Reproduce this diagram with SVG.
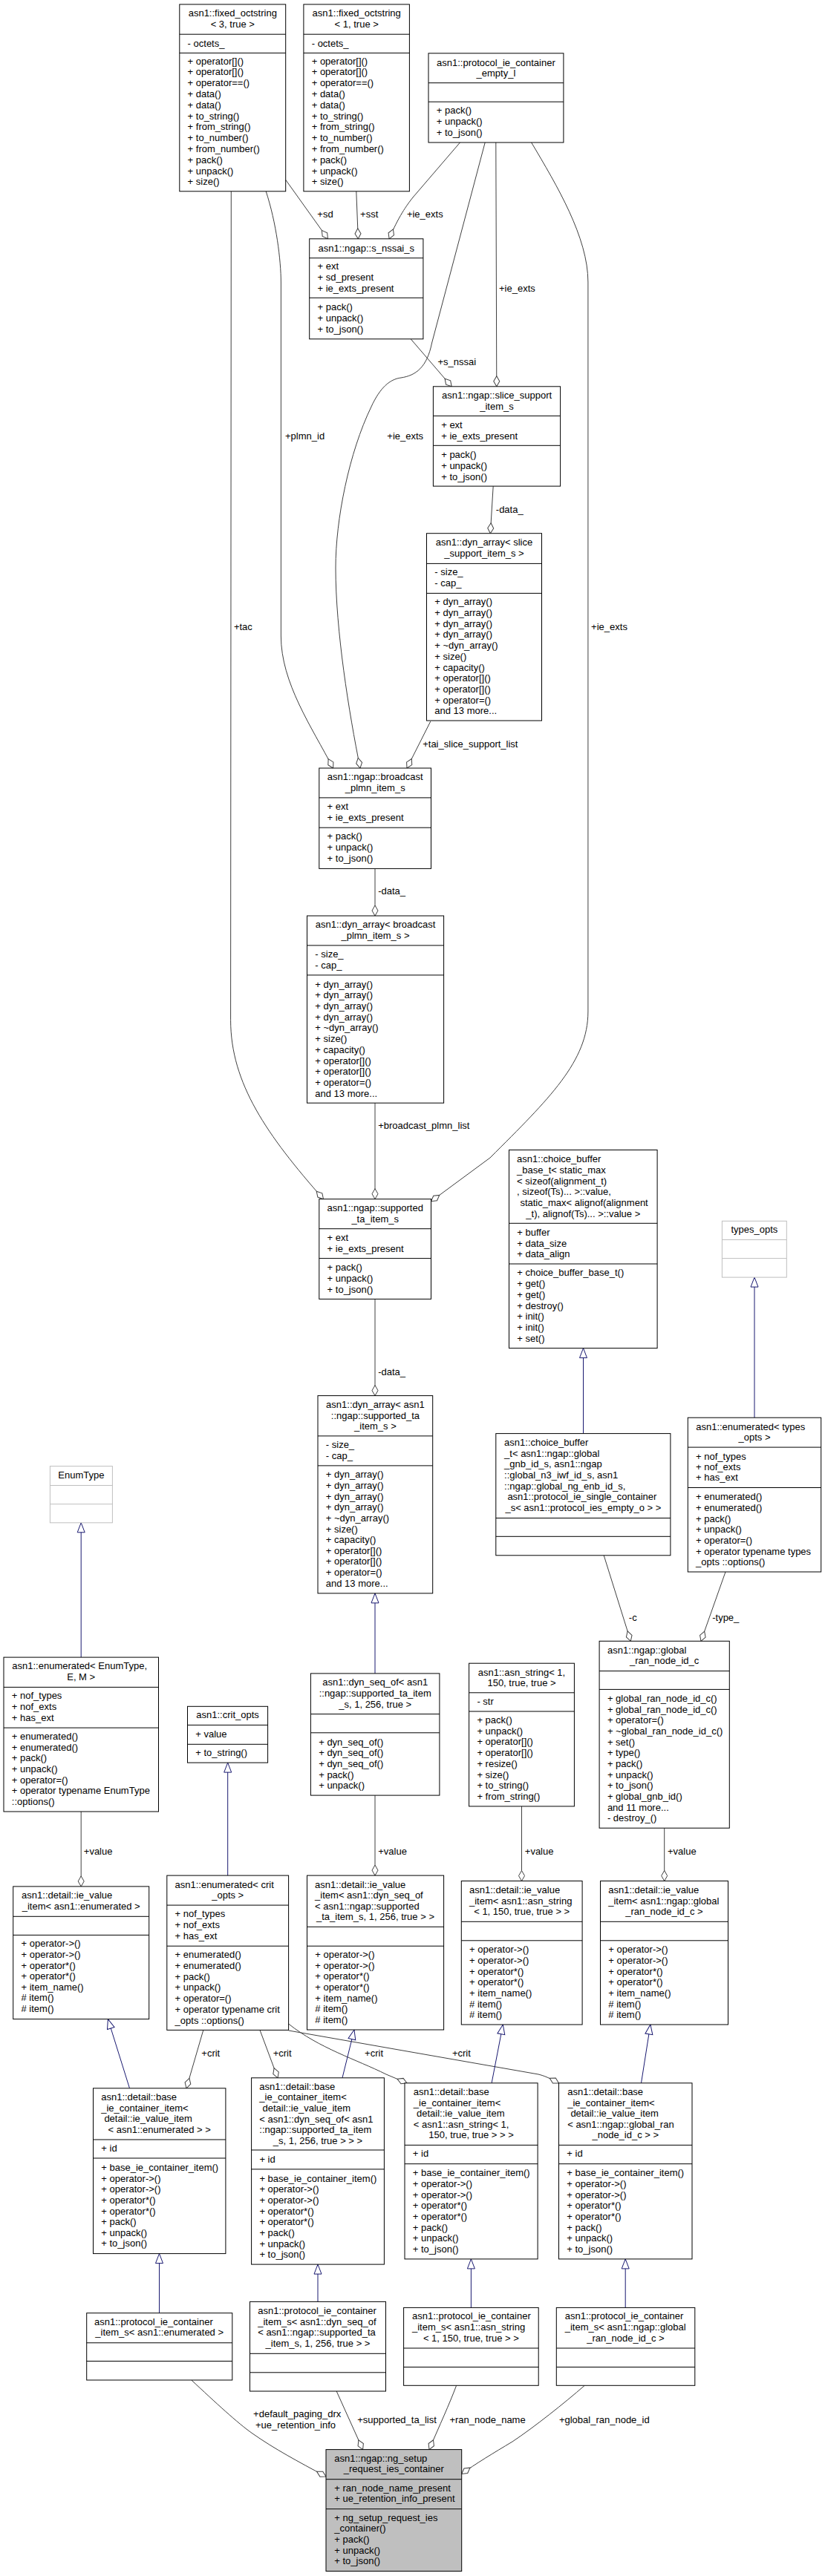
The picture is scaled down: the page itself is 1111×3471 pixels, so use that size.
<svg xmlns="http://www.w3.org/2000/svg" width="1111" height="3471" viewBox="0 0 1111 3471">
<style>
text{font-family:"Liberation Sans",Arial,Helvetica,sans-serif;font-size:13px;fill:#000}
.m{text-anchor:middle}
.b{fill:#fff;stroke:#000;stroke-width:1}
.gr{fill:#fff;stroke:#bfbfbf;stroke-width:1}
.mn{fill:#bfbfbf;stroke:#000;stroke-width:1}
.d{stroke:#000;stroke-width:1}
.dg{stroke:#bfbfbf;stroke-width:1}
.e{fill:none;stroke:#404040;stroke-width:1;marker-end:url(#dia)}
.i{fill:none;stroke:#191970;stroke-width:1;marker-end:url(#tri)}
</style>
<defs>
<marker id="dia" markerUnits="userSpaceOnUse" viewBox="0 0 16 10" markerWidth="16" markerHeight="10" refX="15" refY="5" orient="auto"><path d="M1,5 L8,1 L15,5 L8,9 Z" fill="#fff" stroke="#404040"/></marker>
<marker id="tri" markerUnits="userSpaceOnUse" viewBox="0 0 15 12" markerWidth="15" markerHeight="12" refX="14" refY="6" orient="auto"><path d="M1,1 L14,6 L1,11 Z" fill="#fff" stroke="#191970"/></marker>
</defs>
<rect width="1111" height="3471" fill="#fff"/>

<g id="connectors">
<path class="e" d="M384.7,242.3 L441.5,321.8"/>
<path class="e" d="M479.8,257.8 L482.3,321.8"/>
<path class="e" d="M619.5,192 L556,266 C548,276 536,293 524.1,321.8"/>
<path class="e" d="M653.2,192 L581.6,462 C575,495 560,506 540,509 C525,511 512,522 500,548 C470,610 452,700 452,765 C452,850 470,960 485,1035"/>
<path class="e" d="M667.8,192 L668.8,520.8"/>
<path class="e" d="M715.6,192 C750,250 791.9,320 791.9,380 L791.9,1363 C791.9,1430 740,1480 660,1560 L580.5,1618.7"/>
<path class="e" d="M553.2,456.8 L608.2,520.8"/>
<path class="e" d="M664.2,655.1 L660.3,718.7"/>
<path class="e" d="M579.8,972 L548,1035"/>
<path class="e" d="M358.2,257.8 C372,300 378.4,350 378.4,381 L378.4,857 C378.4,920 420,980 448.6,1035"/>
<path class="e" d="M311.3,257.8 L310.6,1374.5 C310.6,1460 360,1530 435.5,1615.7"/>
<path class="e" d="M505,1170.4 L505,1234"/>
<path class="e" d="M505,1486.2 L505,1615.7"/>
<path class="e" d="M505,1750.4 L505,1880.6"/>
<path class="e" d="M813.2,2095.8 L849.3,2211.3"/>
<path class="e" d="M977,2118 L944,2211.3"/>
<path class="e" d="M109.2,2441 L109.2,2541.9"/>
<path class="e" d="M505,2419.1 L505,2527.1"/>
<path class="e" d="M702.5,2433.9 L702.5,2534.5"/>
<path class="e" d="M894.7,2463.2 L894.7,2534.5"/>
<path class="e" d="M273.8,2735.4 L251,2813.8"/>
<path class="e" d="M350,2735.4 L374,2799.8"/>
<path class="e" d="M388.6,2727 C430,2760 480,2775 520,2795 L548,2806.8"/>
<path class="e" d="M388.6,2736 L725,2795 C733,2797 740,2800 752.5,2807"/>
<path class="e" d="M257.8,3207 C290,3237 320,3265 340,3279 C370,3300 400,3316 439,3337"/>
<path class="e" d="M453.2,3222 L488.6,3300.6"/>
<path class="e" d="M614.6,3214.3 C605,3240 592,3268 578,3300.6"/>
<path class="e" d="M787.3,3214.3 C760,3238 720,3270 690,3290 C665,3305 640,3320 621.7,3333.4"/>
<path class="i" d="M1016,1910.2 L1016,1721.1"/>
<path class="i" d="M785.5,1931.6 L785.5,1816.6"/>
<path class="i" d="M109.2,2233.1 L109.2,2051.8"/>
<path class="i" d="M505,2254.9 L505,2146.9"/>
<path class="i" d="M306.7,2527.1 L306.7,2375.1"/>
<path class="i" d="M174.5,2813.8 L145.4,2720.6"/>
<path class="i" d="M461,2799.8 L477,2735"/>
<path class="i" d="M662.1,2806.8 L677.3,2728"/>
<path class="i" d="M863.5,2806.8 L875.9,2728"/>
<path class="i" d="M214.5,3116.7 L214.5,3036.6"/>
<path class="i" d="M428,3101.4 L428,3051.1"/>
<path class="i" d="M634.4,3109.4 L634.4,3043.9"/>
<path class="i" d="M842.2,3109.4 L842.2,3043.9"/>
<text x="427.3" y="293">+sd</text>
<text x="485.1" y="293">+sst</text>
<text x="547.9" y="293">+ie_exts</text>
<text x="672" y="392.9">+ie_exts</text>
<text x="589.4" y="492">+s_nssai</text>
<text x="667.8" y="691">-data_</text>
<text x="796.1" y="849">+ie_exts</text>
<text x="384" y="591.9">+plmn_id</text>
<text x="521.3" y="591.9">+ie_exts</text>
<text x="314.9" y="849">+tac</text>
<text x="569.2" y="1006.9">+tai_slice_support_list</text>
<text x="509.2" y="1205.2">-data_</text>
<text x="509.2" y="1520.7">+broadcast_plmn_list</text>
<text x="509.2" y="1852.5">-data_</text>
<text x="846.8" y="2183.6">-c</text>
<text x="959.2" y="2183.6">-type_</text>
<text x="112.8" y="2499.1">+value</text>
<text x="509.2" y="2499.1">+value</text>
<text x="706.8" y="2499.1">+value</text>
<text x="899" y="2499.1">+value</text>
<text x="271.3" y="2771">+crit</text>
<text x="367.7" y="2771">+crit</text>
<text x="491.1" y="2771">+crit</text>
<text x="608.9" y="2771">+crit</text>
<text x="341.1" y="3257">+default_paging_drx</text>
<text x="344" y="3272.3">+ue_retention_info</text>
<text x="481.2" y="3265.1">+supported_ta_list</text>
<text x="605.4" y="3265.1">+ran_node_name</text>
<text x="752.9" y="3265.1">+global_ran_node_id</text>
</g>

<g id="fixed_octstring_3">
<rect class="b" x="241.8" y="5.9" width="142.9" height="251.9"/>
<line class="d" x1="241.8" y1="46.2" x2="384.7" y2="46.2"/><line class="d" x1="241.8" y1="71.4" x2="384.7" y2="71.4"/>
<text class="m" x="313.3" y="22.3">asn1::fixed_octstring</text><text class="m" x="313.3" y="37.1">&lt; 3, true &gt;</text>
<text x="252.6" y="62.6">- octets_</text>
<text x="252.6" y="86.6">+ operator[]()</text><text x="252.6" y="101.4">+ operator[]()</text><text x="252.6" y="116.2">+ operator==()</text><text x="252.6" y="131">+ data()</text><text x="252.6" y="145.8">+ data()</text><text x="252.6" y="160.6">+ to_string()</text><text x="252.6" y="175.4">+ from_string()</text><text x="252.6" y="190.2">+ to_number()</text><text x="252.6" y="205">+ from_number()</text><text x="252.6" y="219.8">+ pack()</text><text x="252.6" y="234.6">+ unpack()</text><text x="252.6" y="249.4">+ size()</text>
</g>

<g id="fixed_octstring_1">
<rect class="b" x="408.9" y="5.9" width="142.5" height="251.9"/>
<line class="d" x1="408.9" y1="46.2" x2="551.4" y2="46.2"/><line class="d" x1="408.9" y1="71.4" x2="551.4" y2="71.4"/>
<text class="m" x="480.2" y="22.3">asn1::fixed_octstring</text><text class="m" x="480.2" y="37.1">&lt; 1, true &gt;</text>
<text x="419.7" y="62.6">- octets_</text>
<text x="419.7" y="86.6">+ operator[]()</text><text x="419.7" y="101.4">+ operator[]()</text><text x="419.7" y="116.2">+ operator==()</text><text x="419.7" y="131">+ data()</text><text x="419.7" y="145.8">+ data()</text><text x="419.7" y="160.6">+ to_string()</text><text x="419.7" y="175.4">+ from_string()</text><text x="419.7" y="190.2">+ to_number()</text><text x="419.7" y="205">+ from_number()</text><text x="419.7" y="219.8">+ pack()</text><text x="419.7" y="234.6">+ unpack()</text><text x="419.7" y="249.4">+ size()</text>
</g>

<g id="protocol_ie_container_empty_l">
<rect class="b" x="577" y="71.8" width="181.9" height="120.2"/>
<line class="d" x1="577" y1="111.7" x2="758.9" y2="111.7"/><line class="d" x1="577" y1="137.2" x2="758.9" y2="137.2"/>
<text class="m" x="667.9" y="88.5">asn1::protocol_ie_container</text><text class="m" x="667.9" y="103.3">_empty_l</text>
<text x="587.8" y="153.2">+ pack()</text><text x="587.8" y="168">+ unpack()</text><text x="587.8" y="182.8">+ to_json()</text>
</g>

<g id="s_nssai_s">
<rect class="b" x="416.7" y="321.8" width="153.2" height="135"/>
<line class="d" x1="416.7" y1="347.7" x2="569.9" y2="347.7"/><line class="d" x1="416.7" y1="401.3" x2="569.9" y2="401.3"/>
<text class="m" x="493.3" y="338.5">asn1::ngap::s_nssai_s</text>
<text x="427.5" y="362.9">+ ext</text><text x="427.5" y="377.7">+ sd_present</text><text x="427.5" y="392.5">+ ie_exts_present</text>
<text x="427.5" y="418">+ pack()</text><text x="427.5" y="432.8">+ unpack()</text><text x="427.5" y="447.6">+ to_json()</text>
</g>

<g id="slice_support_item_s">
<rect class="b" x="583.4" y="520.8" width="171.2" height="134.3"/>
<line class="d" x1="583.4" y1="560.4" x2="754.6" y2="560.4"/><line class="d" x1="583.4" y1="600.3" x2="754.6" y2="600.3"/>
<text class="m" x="669" y="537.4">asn1::ngap::slice_support</text><text class="m" x="669" y="552.2">_item_s</text>
<text x="594.2" y="577.1">+ ext</text><text x="594.2" y="591.9">+ ie_exts_present</text>
<text x="594.2" y="617.1">+ pack()</text><text x="594.2" y="631.9">+ unpack()</text><text x="594.2" y="646.7">+ to_json()</text>
</g>

<g id="dyn_array_slice">
<rect class="b" x="574.5" y="718.7" width="155" height="252.3"/>
<line class="d" x1="574.5" y1="759.4" x2="729.5" y2="759.4"/><line class="d" x1="574.5" y1="799.4" x2="729.5" y2="799.4"/>
<text class="m" x="652" y="735">asn1::dyn_array&lt; slice</text><text class="m" x="652" y="749.8">_support_item_s &gt;</text>
<text x="585.3" y="775.4">- size_</text><text x="585.3" y="790.2">- cap_</text>
<text x="585.3" y="815.3">+ dyn_array()</text><text x="585.3" y="830">+ dyn_array()</text><text x="585.3" y="844.7">+ dyn_array()</text><text x="585.3" y="859.4">+ dyn_array()</text><text x="585.3" y="874.1">+ ~dyn_array()</text><text x="585.3" y="888.8">+ size()</text><text x="585.3" y="903.5">+ capacity()</text><text x="585.3" y="918.2">+ operator[]()</text><text x="585.3" y="932.9">+ operator[]()</text><text x="585.3" y="947.6">+ operator=()</text><text x="585.3" y="962.3">and 13 more...</text>
</g>

<g id="broadcast_plmn_item_s">
<rect class="b" x="429.8" y="1035" width="150.7" height="135.4"/>
<line class="d" x1="429.8" y1="1074.9" x2="580.5" y2="1074.9"/><line class="d" x1="429.8" y1="1115.2" x2="580.5" y2="1115.2"/>
<text class="m" x="505.2" y="1051.3">asn1::ngap::broadcast</text><text class="m" x="505.2" y="1066.1">_plmn_item_s</text>
<text x="440.6" y="1091.3">+ ext</text><text x="440.6" y="1106.1">+ ie_exts_present</text>
<text x="440.6" y="1131.2">+ pack()</text><text x="440.6" y="1146">+ unpack()</text><text x="440.6" y="1160.8">+ to_json()</text>
</g>

<g id="dyn_array_broadcast">
<rect class="b" x="413.5" y="1234" width="184.1" height="252.2"/>
<line class="d" x1="413.5" y1="1273.9" x2="597.6" y2="1273.9"/><line class="d" x1="413.5" y1="1313.9" x2="597.6" y2="1313.9"/>
<text class="m" x="505.5" y="1250.3">asn1::dyn_array&lt; broadcast</text><text class="m" x="505.5" y="1265.1">_plmn_item_s &gt;</text>
<text x="424.3" y="1290.3">- size_</text><text x="424.3" y="1305.1">- cap_</text>
<text x="424.3" y="1330.6">+ dyn_array()</text><text x="424.3" y="1345.3">+ dyn_array()</text><text x="424.3" y="1360">+ dyn_array()</text><text x="424.3" y="1374.7">+ dyn_array()</text><text x="424.3" y="1389.4">+ ~dyn_array()</text><text x="424.3" y="1404.1">+ size()</text><text x="424.3" y="1418.8">+ capacity()</text><text x="424.3" y="1433.5">+ operator[]()</text><text x="424.3" y="1448.2">+ operator[]()</text><text x="424.3" y="1462.9">+ operator=()</text><text x="424.3" y="1477.6">and 13 more...</text>
</g>

<g id="supported_ta_item_s">
<rect class="b" x="429.8" y="1615.7" width="150.7" height="134.7"/>
<line class="d" x1="429.8" y1="1655.7" x2="580.5" y2="1655.7"/><line class="d" x1="429.8" y1="1695.6" x2="580.5" y2="1695.6"/>
<text class="m" x="505.2" y="1632.4">asn1::ngap::supported</text><text class="m" x="505.2" y="1647.2">_ta_item_s</text>
<text x="440.6" y="1672">+ ext</text><text x="440.6" y="1686.8">+ ie_exts_present</text>
<text x="440.6" y="1712">+ pack()</text><text x="440.6" y="1726.8">+ unpack()</text><text x="440.6" y="1741.6">+ to_json()</text>
</g>

<g id="choice_buffer_base_t">
<rect class="b" x="685.5" y="1549.5" width="199.6" height="267.1"/>
<line class="d" x1="685.5" y1="1648.3" x2="885.1" y2="1648.3"/><line class="d" x1="685.5" y1="1703" x2="885.1" y2="1703"/>
<text x="696.1" y="1566.2">asn1::choice_buffer</text><text x="696.1" y="1580.9">_base_t&lt; static_max</text><text x="696.1" y="1595.6">&lt; sizeof(alignment_t)</text><text x="696.1" y="1610.3">, sizeof(Ts)... &gt;::value,</text><text x="700.4" y="1625">static_max&lt; alignof(alignment</text><text class="m" x="785.3" y="1639.7">_t), alignof(Ts)... &gt;::value &gt;</text>
<text x="696.3" y="1665">+ buffer</text><text x="696.3" y="1679.5">+ data_size</text><text x="696.3" y="1694.2">+ data_align</text>
<text x="696.3" y="1719.4">+ choice_buffer_base_t()</text><text x="696.3" y="1734.1">+ get()</text><text x="696.3" y="1748.8">+ get()</text><text x="696.3" y="1763.5">+ destroy()</text><text x="696.3" y="1778.2">+ init()</text><text x="696.3" y="1792.9">+ init()</text><text x="696.3" y="1807.6">+ set()</text>
</g>

<g id="types_opts">
<rect class="gr" x="972.4" y="1645.3" width="86.9" height="75.8"/>
<line class="dg" x1="972.4" y1="1670.5" x2="1059.3" y2="1670.5"/><line class="dg" x1="972.4" y1="1695.6" x2="1059.3" y2="1695.6"/>
<text class="m" x="1015.9" y="1661.3">types_opts</text>
</g>

<g id="EnumType">
<rect class="gr" x="67.4" y="1975.6" width="84" height="76.2"/>
<line class="dg" x1="67.4" y1="2001.5" x2="151.4" y2="2001.5"/><line class="dg" x1="67.4" y1="2026.7" x2="151.4" y2="2026.7"/>
<text class="m" x="109.4" y="1992">EnumType</text>
</g>

<g id="dyn_array_supported_ta">
<rect class="b" x="428" y="1880.6" width="154.7" height="266.3"/>
<line class="d" x1="428" y1="1934.9" x2="582.7" y2="1934.9"/><line class="d" x1="428" y1="1974.9" x2="582.7" y2="1974.9"/>
<text class="m" x="505.4" y="1896.9">asn1::dyn_array&lt; asn1</text><text class="m" x="505.4" y="1911.7">::ngap::supported_ta</text><text class="m" x="505.4" y="1926.4">_item_s &gt;</text>
<text x="438.8" y="1951.3">- size_</text><text x="438.8" y="1966.1">- cap_</text>
<text x="438.8" y="1991.2">+ dyn_array()</text><text x="438.8" y="2005.9">+ dyn_array()</text><text x="438.8" y="2020.5">+ dyn_array()</text><text x="438.8" y="2035.2">+ dyn_array()</text><text x="438.8" y="2049.8">+ ~dyn_array()</text><text x="438.8" y="2064.5">+ size()</text><text x="438.8" y="2079.1">+ capacity()</text><text x="438.8" y="2093.8">+ operator[]()</text><text x="438.8" y="2108.4">+ operator[]()</text><text x="438.8" y="2123.1">+ operator=()</text><text x="438.8" y="2137.7">and 13 more...</text>
</g>

<g id="choice_buffer_t">
<rect class="b" x="667.8" y="1931.6" width="235.1" height="164.2"/>
<line class="d" x1="667.8" y1="2045.5" x2="902.9" y2="2045.5"/><line class="d" x1="667.8" y1="2070.3" x2="902.9" y2="2070.3"/>
<text x="679.1" y="1947.9">asn1::choice_buffer</text><text x="679.1" y="1962.6">_t&lt; asn1::ngap::global</text><text x="679.1" y="1977.3">_gnb_id_s, asn1::ngap</text><text x="679.1" y="1992">::global_n3_iwf_id_s, asn1</text><text x="679.1" y="2006.7">::ngap::global_ng_enb_id_s,</text><text x="683.4" y="2021.4">asn1::protocol_ie_single_container</text><text class="m" x="785.4" y="2036.1">_s&lt; asn1::protocol_ies_empty_o &gt; &gt;</text>
</g>

<g id="enumerated_types_opts">
<rect class="b" x="926.3" y="1910.2" width="179.4" height="207.8"/>
<line class="d" x1="926.3" y1="1950.1" x2="1105.7" y2="1950.1"/><line class="d" x1="926.3" y1="2004.5" x2="1105.7" y2="2004.5"/>
<text x="937.2" y="1926.5">asn1::enumerated&lt; types</text><text class="m" x="1016" y="1941.3">_opts &gt;</text>
<text x="937.1" y="1966.5">+ nof_types</text><text x="937.1" y="1981.2">+ nof_exts</text><text x="937.1" y="1995.3">+ has_ext</text>
<text x="937.1" y="2021.2">+ enumerated()</text><text x="937.1" y="2035.9">+ enumerated()</text><text x="937.1" y="2050.6">+ pack()</text><text x="937.1" y="2065.3">+ unpack()</text><text x="937.1" y="2080">+ operator=()</text><text x="937.1" y="2094.7">+ operator typename types</text><text x="937.1" y="2109.4">_opts ::options()</text>
</g>

<g id="enumerated_EnumType">
<rect class="b" x="5" y="2233.1" width="208.5" height="207.9"/>
<line class="d" x1="5" y1="2273.4" x2="213.5" y2="2273.4"/><line class="d" x1="5" y1="2328.1" x2="213.5" y2="2328.1"/>
<text x="16.3" y="2249.1">asn1::enumerated&lt; EnumType,</text><text class="m" x="109.2" y="2263.8">E, M &gt;</text>
<text x="15.8" y="2289">+ nof_types</text><text x="15.8" y="2304.2">+ nof_exts</text><text x="15.8" y="2318.6">+ has_ext</text>
<text x="15.8" y="2344.1">+ enumerated()</text><text x="15.8" y="2358.8">+ enumerated()</text><text x="15.8" y="2373.4">+ pack()</text><text x="15.8" y="2388.1">+ unpack()</text><text x="15.8" y="2402.7">+ operator=()</text><text x="15.8" y="2417.4">+ operator typename EnumType</text><text x="15.8" y="2432.1">::options()</text>
</g>

<g id="crit_opts">
<rect class="b" x="252.5" y="2299.3" width="108.1" height="75.8"/>
<line class="d" x1="252.5" y1="2324.4" x2="360.6" y2="2324.4"/><line class="d" x1="252.5" y1="2350.3" x2="360.6" y2="2350.3"/>
<text class="m" x="306.6" y="2315.3">asn1::crit_opts</text>
<text x="263.3" y="2341.1">+ value</text>
<text x="263.3" y="2366.3">+ to_string()</text>
</g>

<g id="dyn_seq_of">
<rect class="b" x="418.4" y="2254.9" width="173.5" height="164.2"/>
<line class="d" x1="418.4" y1="2309.6" x2="591.9" y2="2309.6"/><line class="d" x1="418.4" y1="2334.8" x2="591.9" y2="2334.8"/>
<text class="m" x="505.2" y="2271.2">asn1::dyn_seq_of&lt; asn1</text><text class="m" x="505.2" y="2286">::ngap::supported_ta_item</text><text class="m" x="505.2" y="2300.8">_s, 1, 256, true &gt;</text>
<text x="429.2" y="2351.5">+ dyn_seq_of()</text><text x="429.2" y="2366.2">+ dyn_seq_of()</text><text x="429.2" y="2380.9">+ dyn_seq_of()</text><text x="429.2" y="2395.6">+ pack()</text><text x="429.2" y="2410.3">+ unpack()</text>
</g>

<g id="asn_string">
<rect class="b" x="631.6" y="2241.2" width="141.8" height="192.7"/>
<line class="d" x1="631.6" y1="2280.8" x2="773.4" y2="2280.8"/><line class="d" x1="631.6" y1="2306" x2="773.4" y2="2306"/>
<text class="m" x="702.5" y="2257.5">asn1::asn_string&lt; 1,</text><text class="m" x="702.5" y="2272.2">150, true, true &gt;</text>
<text x="642.4" y="2297.1">- str</text>
<text x="642.4" y="2321.9">+ pack()</text><text x="642.4" y="2336.7">+ unpack()</text><text x="642.4" y="2351.4">+ operator[]()</text><text x="642.4" y="2366.2">+ operator[]()</text><text x="642.4" y="2380.9">+ resize()</text><text x="642.4" y="2395.7">+ size()</text><text x="642.4" y="2410.4">+ to_string()</text><text x="642.4" y="2425.2">+ from_string()</text>
</g>

<g id="global_ran_node_id_c">
<rect class="b" x="807.1" y="2211.3" width="175.2" height="251.9"/>
<line class="d" x1="807.1" y1="2251.6" x2="982.3" y2="2251.6"/><line class="d" x1="807.1" y1="2276.4" x2="982.3" y2="2276.4"/>
<text x="818.1" y="2227.6">asn1::ngap::global</text><text class="m" x="894.7" y="2242.4">_ran_node_id_c</text>
<text x="817.9" y="2293.1">+ global_ran_node_id_c()</text><text x="817.9" y="2307.8">+ global_ran_node_id_c()</text><text x="817.9" y="2322.4">+ operator=()</text><text x="817.9" y="2337.1">+ ~global_ran_node_id_c()</text><text x="817.9" y="2351.7">+ set()</text><text x="817.9" y="2366.4">+ type()</text><text x="817.9" y="2381">+ pack()</text><text x="817.9" y="2395.7">+ unpack()</text><text x="817.9" y="2410.3">+ to_json()</text><text x="817.9" y="2425">+ global_gnb_id()</text><text x="817.9" y="2439.6">and 11 more...</text><text x="817.9" y="2454.3">- destroy_()</text>
</g>

<g id="ie_value_item_enumerated">
<rect class="b" x="17.7" y="2541.9" width="183" height="178.7"/>
<line class="d" x1="17.7" y1="2582.3" x2="200.7" y2="2582.3"/><line class="d" x1="17.7" y1="2607.4" x2="200.7" y2="2607.4"/>
<text x="29.1" y="2558.3">asn1::detail::ie_value</text><text class="m" x="109.2" y="2573.1">_item&lt; asn1::enumerated &gt;</text>
<text x="28.5" y="2623.4">+ operator-&gt;()</text><text x="28.5" y="2638">+ operator-&gt;()</text><text x="28.5" y="2652.6">+ operator*()</text><text x="28.5" y="2667.2">+ operator*()</text><text x="28.5" y="2681.8">+ item_name()</text><text x="28.5" y="2696.4"># item()</text><text x="28.5" y="2711"># item()</text>
</g>

<g id="enumerated_crit_opts">
<rect class="b" x="224.8" y="2527.1" width="163.8" height="208.3"/>
<line class="d" x1="224.8" y1="2567.1" x2="388.6" y2="2567.1"/><line class="d" x1="224.8" y1="2622.2" x2="388.6" y2="2622.2"/>
<text x="235.5" y="2543.5">asn1::enumerated&lt; crit</text><text class="m" x="306.7" y="2558.3">_opts &gt;</text>
<text x="235.6" y="2583.4">+ nof_types</text><text x="235.6" y="2598.2">+ nof_exts</text><text x="235.6" y="2613">+ has_ext</text>
<text x="235.6" y="2638.2">+ enumerated()</text><text x="235.6" y="2652.9">+ enumerated()</text><text x="235.6" y="2667.7">+ pack()</text><text x="235.6" y="2682.4">+ unpack()</text><text x="235.6" y="2697.1">+ operator=()</text><text x="235.6" y="2711.9">+ operator typename crit</text><text x="235.6" y="2726.6">_opts ::options()</text>
</g>

<g id="ie_value_item_dyn_seq_of">
<rect class="b" x="413.5" y="2527.1" width="184.1" height="207.9"/>
<line class="d" x1="413.5" y1="2596.3" x2="597.6" y2="2596.3"/><line class="d" x1="413.5" y1="2622.2" x2="597.6" y2="2622.2"/>
<text x="424.1" y="2543.5">asn1::detail::ie_value</text><text x="424.1" y="2558.1">_item&lt; asn1::dyn_seq_of</text><text x="424.1" y="2572.7">&lt; asn1::ngap::supported</text><text class="m" x="505.5" y="2587.3">_ta_item_s, 1, 256, true &gt; &gt;</text>
<text x="424.3" y="2638.2">+ operator-&gt;()</text><text x="424.3" y="2652.8">+ operator-&gt;()</text><text x="424.3" y="2667.4">+ operator*()</text><text x="424.3" y="2682">+ operator*()</text><text x="424.3" y="2696.6">+ item_name()</text><text x="424.3" y="2711.2"># item()</text><text x="424.3" y="2725.8"># item()</text>
</g>

<g id="ie_value_item_asn_string">
<rect class="b" x="621.3" y="2534.5" width="162.8" height="193.5"/>
<line class="d" x1="621.3" y1="2589.3" x2="784.1" y2="2589.3"/><line class="d" x1="621.3" y1="2614.8" x2="784.1" y2="2614.8"/>
<text x="632" y="2550.9">asn1::detail::ie_value</text><text x="632" y="2565.5">_item&lt; asn1::asn_string</text><text class="m" x="702.7" y="2580.1">&lt; 1, 150, true, true &gt; &gt;</text>
<text x="632.1" y="2631.2">+ operator-&gt;()</text><text x="632.1" y="2645.9">+ operator-&gt;()</text><text x="632.1" y="2660.5">+ operator*()</text><text x="632.1" y="2675.2">+ operator*()</text><text x="632.1" y="2689.9">+ item_name()</text><text x="632.1" y="2704.5"># item()</text><text x="632.1" y="2719.2"># item()</text>
</g>

<g id="ie_value_item_global_ran_node_id_c">
<rect class="b" x="808.5" y="2534.5" width="172" height="193.5"/>
<line class="d" x1="808.5" y1="2589.3" x2="980.5" y2="2589.3"/><line class="d" x1="808.5" y1="2614.8" x2="980.5" y2="2614.8"/>
<text x="819.2" y="2550.9">asn1::detail::ie_value</text><text x="819.2" y="2565.5">_item&lt; asn1::ngap::global</text><text class="m" x="894.5" y="2580.1">_ran_node_id_c &gt;</text>
<text x="819.3" y="2631.2">+ operator-&gt;()</text><text x="819.3" y="2645.9">+ operator-&gt;()</text><text x="819.3" y="2660.5">+ operator*()</text><text x="819.3" y="2675.2">+ operator*()</text><text x="819.3" y="2689.9">+ item_name()</text><text x="819.3" y="2704.5"># item()</text><text x="819.3" y="2719.2"># item()</text>
</g>

<g id="base_ie_container_item_enumerated">
<rect class="b" x="125.5" y="2813.8" width="178.4" height="222.8"/>
<line class="d" x1="125.5" y1="2883" x2="303.9" y2="2883"/><line class="d" x1="125.5" y1="2908" x2="303.9" y2="2908"/>
<text x="136.2" y="2830.1">asn1::detail::base</text><text x="136.2" y="2844.7">_ie_container_item&lt;</text><text x="140.4" y="2859.3">detail::ie_value_item</text><text class="m" x="214.7" y="2873.9">&lt; asn1::enumerated &gt; &gt;</text>
<text x="136.3" y="2898.9">+ id</text>
<text x="136.3" y="2925.3">+ base_ie_container_item()</text><text x="136.3" y="2939.9">+ operator-&gt;()</text><text x="136.3" y="2954.4">+ operator-&gt;()</text><text x="136.3" y="2969">+ operator*()</text><text x="136.3" y="2983.5">+ operator*()</text><text x="136.3" y="2998.1">+ pack()</text><text x="136.3" y="3012.6">+ unpack()</text><text x="136.3" y="3027.2">+ to_json()</text>
</g>

<g id="base_ie_container_item_dyn_seq_of">
<rect class="b" x="338.6" y="2799.8" width="178.8" height="251.3"/>
<line class="d" x1="338.6" y1="2897" x2="517.4" y2="2897"/><line class="d" x1="338.6" y1="2922.9" x2="517.4" y2="2922.9"/>
<text x="349.3" y="2815.7">asn1::detail::base</text><text x="349.3" y="2830.4">_ie_container_item&lt;</text><text x="353.5" y="2845">detail::ie_value_item</text><text x="349.3" y="2859.7">&lt; asn1::dyn_seq_of&lt; asn1</text><text x="349.3" y="2874.4">::ngap::supported_ta_item</text><text class="m" x="428" y="2889">_s, 1, 256, true &gt; &gt; &gt;</text>
<text x="349.4" y="2913.6">+ id</text>
<text x="349.4" y="2939.5">+ base_ie_container_item()</text><text x="349.4" y="2954.2">+ operator-&gt;()</text><text x="349.4" y="2968.8">+ operator-&gt;()</text><text x="349.4" y="2983.5">+ operator*()</text><text x="349.4" y="2998.2">+ operator*()</text><text x="349.4" y="3012.9">+ pack()</text><text x="349.4" y="3027.5">+ unpack()</text><text x="349.4" y="3042.2">+ to_json()</text>
</g>

<g id="base_ie_container_item_asn_string">
<rect class="b" x="545" y="2806.8" width="179.1" height="237.1"/>
<line class="d" x1="545" y1="2890.4" x2="724.1" y2="2890.4"/><line class="d" x1="545" y1="2915.7" x2="724.1" y2="2915.7"/>
<text x="556.8" y="2823.2">asn1::detail::base</text><text x="556.8" y="2837.7">_ie_container_item&lt;</text><text x="561" y="2852.2">detail::ie_value_item</text><text x="556.8" y="2866.7">&lt; asn1::asn_string&lt; 1,</text><text class="m" x="634.5" y="2881.2">150, true, true &gt; &gt; &gt;</text>
<text x="555.8" y="2906.3">+ id</text>
<text x="555.8" y="2932.2">+ base_ie_container_item()</text><text x="555.8" y="2946.9">+ operator-&gt;()</text><text x="555.8" y="2961.5">+ operator-&gt;()</text><text x="555.8" y="2976.2">+ operator*()</text><text x="555.8" y="2990.9">+ operator*()</text><text x="555.8" y="3005.6">+ pack()</text><text x="555.8" y="3020.2">+ unpack()</text><text x="555.8" y="3034.9">+ to_json()</text>
</g>

<g id="base_ie_container_item_global_ran_node_id_c">
<rect class="b" x="752.5" y="2806.8" width="179.5" height="237.1"/>
<line class="d" x1="752.5" y1="2890.4" x2="932" y2="2890.4"/><line class="d" x1="752.5" y1="2915.7" x2="932" y2="2915.7"/>
<text x="764.2" y="2823.2">asn1::detail::base</text><text x="764.2" y="2837.7">_ie_container_item&lt;</text><text x="768.4" y="2852.2">detail::ie_value_item</text><text x="764.2" y="2866.7">&lt; asn1::ngap::global_ran</text><text class="m" x="842.3" y="2881.2">_node_id_c &gt; &gt;</text>
<text x="763.3" y="2906.3">+ id</text>
<text x="763.3" y="2932.2">+ base_ie_container_item()</text><text x="763.3" y="2946.9">+ operator-&gt;()</text><text x="763.3" y="2961.5">+ operator-&gt;()</text><text x="763.3" y="2976.2">+ operator*()</text><text x="763.3" y="2990.9">+ operator*()</text><text x="763.3" y="3005.6">+ pack()</text><text x="763.3" y="3020.2">+ unpack()</text><text x="763.3" y="3034.9">+ to_json()</text>
</g>

<g id="protocol_ie_container_item_enumerated">
<rect class="b" x="116.7" y="3116.7" width="196.1" height="90.3"/>
<line class="d" x1="116.7" y1="3156.8" x2="312.8" y2="3156.8"/><line class="d" x1="116.7" y1="3181.5" x2="312.8" y2="3181.5"/>
<text x="127" y="3133.2">asn1::protocol_ie_container</text><text class="m" x="214.7" y="3147.4">_item_s&lt; asn1::enumerated &gt;</text>
</g>

<g id="protocol_ie_container_item_dyn_seq_of">
<rect class="b" x="336.5" y="3101.4" width="183" height="120.6"/>
<line class="d" x1="336.5" y1="3171.3" x2="519.5" y2="3171.3"/><line class="d" x1="336.5" y1="3196.8" x2="519.5" y2="3196.8"/>
<text x="347.2" y="3118.3">asn1::protocol_ie_container</text><text x="347.2" y="3132.9">_item_s&lt; asn1::dyn_seq_of</text><text x="347.2" y="3147.4">&lt; asn1::ngap::supported_ta</text><text class="m" x="428" y="3162">_item_s, 1, 256, true &gt; &gt;</text>
</g>

<g id="protocol_ie_container_item_asn_string">
<rect class="b" x="543.6" y="3109.4" width="181.6" height="104.9"/>
<line class="d" x1="543.6" y1="3164" x2="725.2" y2="3164"/><line class="d" x1="543.6" y1="3189.5" x2="725.2" y2="3189.5"/>
<text x="555" y="3125.2">asn1::protocol_ie_container</text><text x="555" y="3140">_item_s&lt; asn1::asn_string</text><text class="m" x="634.4" y="3154.8">&lt; 1, 150, true, true &gt; &gt;</text>
</g>

<g id="protocol_ie_container_item_global_ran_node_id_c">
<rect class="b" x="749.3" y="3109.4" width="186.5" height="104.9"/>
<line class="d" x1="749.3" y1="3164" x2="935.8" y2="3164"/><line class="d" x1="749.3" y1="3189.5" x2="935.8" y2="3189.5"/>
<text x="760.7" y="3125.2">asn1::protocol_ie_container</text><text x="760.7" y="3140">_item_s&lt; asn1::ngap::global</text><text class="m" x="842.5" y="3154.8">_ran_node_id_c &gt;</text>
</g>

<g id="ng_setup_request_ies_container">
<rect class="mn" x="439" y="3300.6" width="182.7" height="163.9"/>
<line class="d" x1="439" y1="3340.7" x2="621.7" y2="3340.7"/><line class="d" x1="439" y1="3380.7" x2="621.7" y2="3380.7"/>
<text x="450.3" y="3317.1">asn1::ngap::ng_setup</text><text class="m" x="530.3" y="3330.6">_request_ies_container</text>
<text x="450.3" y="3357.2">+ ran_node_name_present</text><text x="450.3" y="3371">+ ue_retention_info_present</text>
<text x="450.3" y="3397.3">+ ng_setup_request_ies</text><text x="450.3" y="3411.1">_container()</text><text x="450.3" y="3426">+ pack()</text><text x="450.3" y="3441">+ unpack()</text><text x="450.3" y="3455.2">+ to_json()</text>
</g>
</svg>
